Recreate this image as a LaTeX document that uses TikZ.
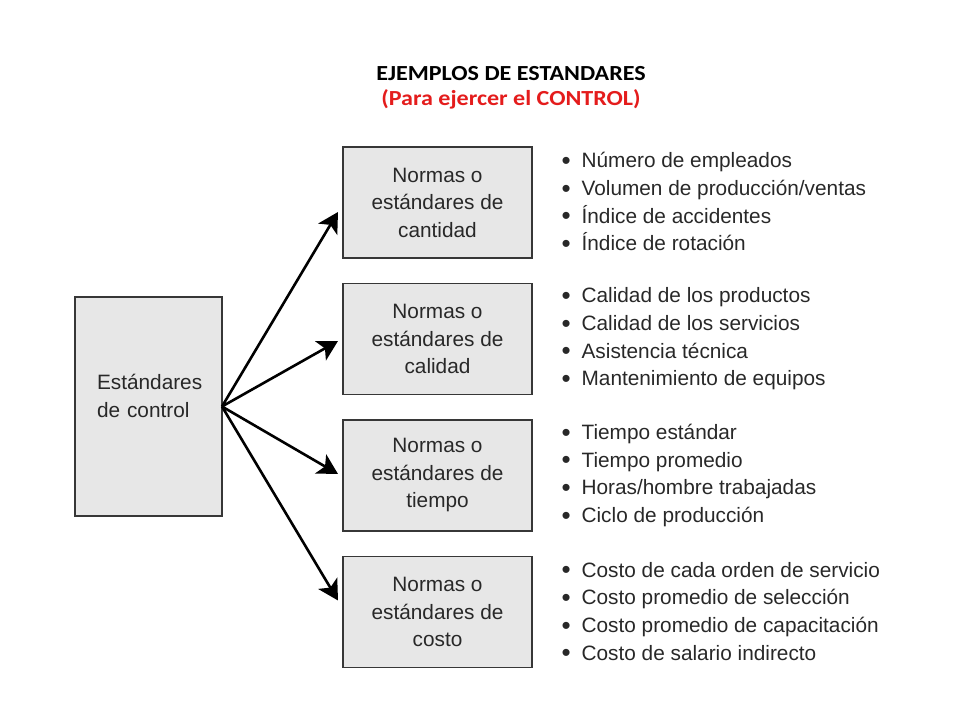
\documentclass[tikz,border=0pt]{standalone}
\usepackage{fontspec}
\setmainfont{Liberation Sans}
\newfontfamily\titlefont[FakeStretch=1.12]{Carlito}
\usetikzlibrary{arrows.meta, positioning}
\definecolor{box_gray}{RGB}{231,231,231}
\definecolor{box_line}{RGB}{55,55,55}
\definecolor{text_gray}{RGB}{40,40,40}
\definecolor{title_red}{RGB}{228,28,28}
\newcommand{\bul}{\raisebox{-1.6pt}{\scalebox{1.25}{\textbullet}}\hspace{11pt}}

\begin{document}
\begin{tikzpicture}[x=1pt, y=1pt,
    std/.style={draw=box_line, line width=1.8pt, fill=box_gray, text=text_gray, outer sep=0pt, inner sep=0pt, font=\fontsize{20.8}{27.5}\selectfont},
    normbox/.style={std, minimum width=189pt, minimum height=111pt, align=center},
    items/.style={anchor=west, inner sep=0pt, outer sep=0pt, align=left, text=text_gray, font=\fontsize{20.8}{27.7}\selectfont},
    heading/.style={anchor=base, font=\titlefont\bfseries\fontsize{21.5}{21.5}\selectfont},
    link/.style={-{Stealth[length=20pt, width=22pt, inset=5pt]}, line width=2.6pt}]
    \useasboundingbox (0,0) rectangle (960,720);

    % Title
    \node[heading] (title) at (511,639) {EJEMPLOS DE ESTANDARES};
    \node[heading, text=title_red] (subtitle) at (511,614) {(Para ejercer el CONTROL)};

    % Control box
    \node[std, minimum width=147pt, minimum height=219pt, text width=103pt, align=left,
          text height=15pt, text depth=48pt] (ctrl) at (148.5,313.5) {Estándares\\de control};

    % Standards boxes
    \node[normbox] (cant) at (437.5,517.5) {Normas o\\estándares de\\cantidad};
    \node[normbox, below=25.5pt of cant] (cal) {Normas o\\estándares de\\calidad};
    \node[normbox, below=25.5pt of cal] (tiem) {Normas o\\estándares de\\tiempo};
    \node[normbox, below=25.5pt of tiem] (cost) {Normas o\\estándares de\\costo};

    % Examples
    \node[items, right=29.5pt of cant] (cantlist) {\bul Número de empleados\\
        \bul Volumen de producción/ventas\\
        \bul Índice de accidentes\\
        \bul Índice de rotación};
    \node[items, right=29.5pt of cal] (callist) {\bul Calidad de los productos\\
        \bul Calidad de los servicios\\
        \bul Asistencia técnica\\
        \bul Mantenimiento de equipos};
    \node[items, right=29.5pt of tiem] (tiemlist) {\bul Tiempo estándar\\
        \bul Tiempo promedio\\
        \bul Horas/hombre trabajadas\\
        \bul Ciclo de producción};
    \node[items, right=29.5pt of cost] (costlist) {\bul Costo de cada orden de servicio\\
        \bul Costo promedio de selección\\
        \bul Costo promedio de capacitación\\
        \bul Costo de salario indirecto};

    % Arrows
    \draw[link] (ctrl.east) -- ([xshift=-5pt,yshift=-9.5pt]cant.west);
    \draw[link] (ctrl.east) -- ([xshift=-5pt,yshift=-2pt]cal.west);
    \draw[link] (ctrl.east) -- ([xshift=-5pt,yshift=1.5pt]tiem.west);
    \draw[link] (ctrl.east) -- ([xshift=-5pt,yshift=11.5pt]cost.west);
\end{tikzpicture}
\end{document}
